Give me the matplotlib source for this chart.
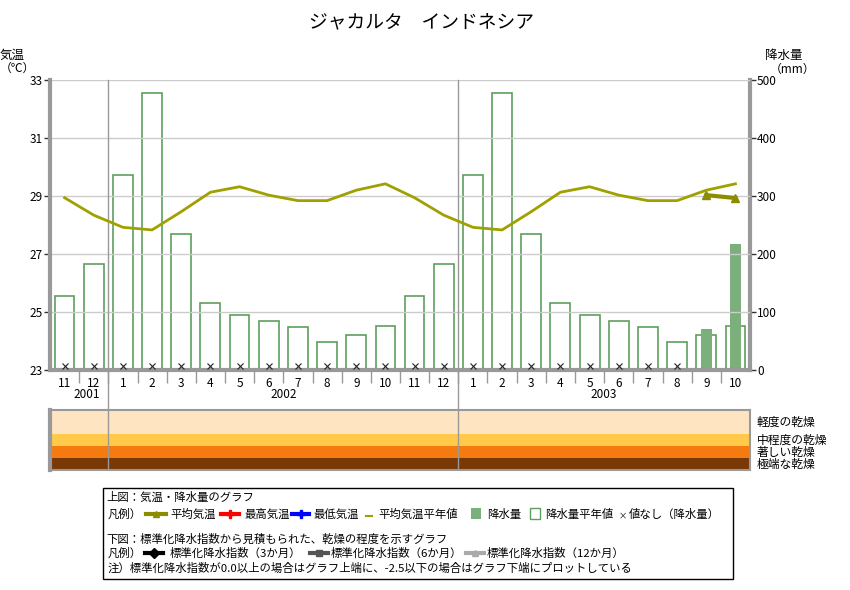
import numpy as np
import matplotlib
matplotlib.use("Agg")
from matplotlib import pyplot as plt
from matplotlib import transforms

plt.rcParams['font.family'] = ['Noto Sans CJK JP', 'DejaVu Sans']

# 月 (2001/11 - 2003/10)
month_labels = ['11', '12', '1', '2', '3', '4', '5', '6', '7', '8', '9', '10',
                '11', '12', '1', '2', '3', '4', '5', '6', '7', '8', '9', '10']
calendar_month = [int(m) for m in month_labels]
years = ['2001', '2002', '2003']
year_label_pos = [1.25, 8.0, 19.0]
year_breaks = [2, 14]

# 平年値 (1月..12月)
temp_normal_by_month = [27.92, 27.83, 28.46, 29.13, 29.32, 29.03,
                        28.84, 28.84, 29.20, 29.42, 28.94, 28.34]
precip_normal_by_month = [337, 477, 234, 115, 94, 84,
                          75, 49, 60, 76, 127, 182]

# 観測値 (値なしは nan)
temp_mean = [np.nan] * 22 + [29.03, 28.93]
precip = [np.nan] * 22 + [71, 217]

# 標準化降水指数の階級
drought_labels = ['軽度の乾燥', '中程度の乾燥', '著しい乾燥', '極端な乾燥']
drought_ranges = [(-1.0, 0.0), (-1.5, -1.0), (-2.0, -1.5), (-2.5, -2.0)]
drought_colors = ['#FFE4C2', '#FFC94A', '#F57A10', '#7A3805']

n = len(month_labels)
x = np.arange(n) + 0.5
temp_normal = [temp_normal_by_month[m - 1] for m in calendar_month]
precip_normal = [precip_normal_by_month[m - 1] for m in calendar_month]

W, H = 850, 590
fig = plt.figure(figsize=(8.5, 5.9), dpi=100)

# 上図
ax = fig.add_axes([50 / W, 1 - 370 / H, 700 / W, 290 / H])
axr = ax.twinx()
ax.set_zorder(axr.get_zorder() + 1)
ax.patch.set_visible(False)

ax.set_xlim(0, n)
ax.set_ylim(23, 33)
axr.set_ylim(0, 500)
ax.set_yticks(np.arange(23, 34, 2))
axr.set_yticks(np.arange(0, 501, 100))
ax.grid(axis='y', color='#cccccc', linewidth=1)
ax.set_axisbelow(True)

gray = '#999999'
for a in (ax, axr):
    for s in a.spines.values():
        s.set_visible(False)
ax.spines['left'].set_visible(True)
ax.spines['bottom'].set_visible(True)
axr.spines['right'].set_visible(True)
for s in (ax.spines['left'], ax.spines['bottom'], axr.spines['right']):
    s.set_color(gray)
    s.set_linewidth(3)

ax.tick_params(axis='y', length=4, width=1, color='#333333', labelsize=8.5, pad=1)
axr.tick_params(axis='y', length=4, width=1, color='#333333', labelsize=8.5, pad=1)

ax.set_xticks(x)
ax.set_xticklabels(month_labels)
ax.set_xticks(np.arange(1, n), minor=True)
ax.tick_params(axis='x', which='major', length=0, labelsize=8.5, pad=5)
ax.tick_params(axis='x', which='minor', length=9, width=1, color=gray)

# 降水量
axr.bar(x, precip_normal, width=0.68, facecolor='white', edgecolor='#5E9E5E',
        linewidth=1.2, zorder=2)
axr.bar(x, precip, width=0.38, color='#7BAF7B', zorder=3)

# 値なし
missing = [xi for xi, p in zip(x, precip) if np.isnan(p)]
trans = transforms.blended_transform_factory(ax.transData, ax.transAxes)
ax.plot(missing, [0.015] * len(missing), 'x', color='#222222', markersize=4,
        markeredgewidth=0.8, transform=trans, zorder=5)

# 気温
ax.plot(x, temp_normal, color='#A0A000', linewidth=2, zorder=4)
ax.plot(x, temp_mean, color='#8C8C00', linewidth=3, marker='^', markersize=6, zorder=5)

# 年の区切り
for b in year_breaks:
    ax.plot([b, b], [1, -0.138], color=gray, linewidth=1, transform=trans,
            clip_on=False, zorder=1)
for yl, xp in zip(years, year_label_pos):
    ax.text(xp, -0.086, yl, transform=trans, ha='center', va='center', fontsize=8.5)

# 下図
ax2 = fig.add_axes([50 / W, 1 - 470 / H, 700 / W, 60 / H])
ax2.set_xlim(0, n)
ax2.set_ylim(-2.5, 0)
for (lo, hi), c in zip(drought_ranges, drought_colors):
    ax2.axhspan(lo, hi, color=c, linewidth=0)
for b in year_breaks:
    ax2.axvline(b, color=gray, linewidth=1)
ax2.set_xticks([])
ax2.set_yticks([])
for s in ax2.spines.values():
    s.set_color(gray)
    s.set_linewidth(1.5)
ax2.spines['left'].set_linewidth(3)
for lab, (lo, hi) in zip(drought_labels, drought_ranges):
    ax2.text(1.01, (lo + hi) / 2 / 2.5 + 1, lab, transform=ax2.transAxes,
             ha='left', va='center', fontsize=8.5)

# 文字・凡例 (ピクセル座標)
ov = fig.add_axes([0, 0, 1, 1], zorder=-1)
ov.set_xlim(0, W)
ov.set_ylim(H, 0)
ov.axis('off')

ov.text(422, 22, 'ジャカルタ　インドネシア', ha='center', va='center', fontsize=13.5)
ov.text(0, 55, '気温', ha='left', va='center', fontsize=9)
ov.text(0, 68, '（℃）', ha='left', va='center', fontsize=8.5)
ov.text(765, 55, '降水量', ha='left', va='center', fontsize=9)
ov.text(770, 69, '（mm）', ha='left', va='center', fontsize=8.5)

ov.add_patch(plt.Rectangle((103, 488), 630, 91, fill=False, edgecolor='black',
                           linewidth=1))
fs = 8.2
ov.text(106, 497, '上図：気温・降水量のグラフ', va='center', fontsize=fs)
ov.text(108, 514, '凡例）', va='center', fontsize=fs)
ov.plot([146, 156, 166], [514, 514, 514], color='#8C8C00', linewidth=3,
        marker='^', markersize=5, markevery=[1])
ov.text(170, 514, '平均気温', va='center', fontsize=fs)
ov.plot([221, 230, 239], [514, 514, 514], color='#FF0000', linewidth=3,
        marker='P', markersize=6, markevery=[1])
ov.text(244, 514, '最高気温', va='center', fontsize=fs)
ov.plot([292, 301, 309], [514, 514, 514], color='#0000FF', linewidth=3,
        marker='P', markersize=6, markevery=[1])
ov.text(313, 514, '最低気温', va='center', fontsize=fs)
ov.plot([366, 372], [516, 516], color='#A0A000', linewidth=1.5)
ov.text(378, 514, '平均気温平年値', va='center', fontsize=fs)
ov.add_patch(plt.Rectangle((471, 508), 10, 11, facecolor='#7BAF7B', edgecolor='none'))
ov.text(487, 514, '降水量', va='center', fontsize=fs)
ov.add_patch(plt.Rectangle((530, 508), 10, 11, facecolor='white', edgecolor='#5E9E5E',
                           linewidth=1))
ov.text(545, 514, '降水量平年値', va='center', fontsize=fs)
ov.text(623, 516, '×', va='center', ha='center', fontsize=6)
ov.text(629, 514, '値なし（降水量）', va='center', fontsize=fs)

ov.text(106, 539, '下図：標準化降水指数から見積もられた、乾燥の程度を示すグラフ',
        va='center', fontsize=fs)
ov.text(108, 553, '凡例）', va='center', fontsize=fs)
ov.plot([145, 154, 163], [553, 553, 553], color='#000000', linewidth=3,
        marker='D', markersize=5, markevery=[1])
ov.text(170, 553, '標準化降水指数（3か月）', va='center', fontsize=fs)
ov.plot([310, 319, 328], [553, 553, 553], color='#555555', linewidth=3,
        marker='s', markersize=5, markevery=[1])
ov.text(331, 553, '標準化降水指数（6か月）', va='center', fontsize=fs)
ov.plot([466, 475, 484], [553, 553, 553], color='#AAAAAA', linewidth=3,
        marker='^', markersize=5, markevery=[1])
ov.text(487, 553, '標準化降水指数（12か月）', va='center', fontsize=fs)
ov.text(108, 568, '注）標準化降水指数が0.0以上の場合はグラフ上端に、-2.5以下の場合はグラフ下端にプロットしている',
        va='center', fontsize=fs)

fig.savefig('out.png', dpi=100)
